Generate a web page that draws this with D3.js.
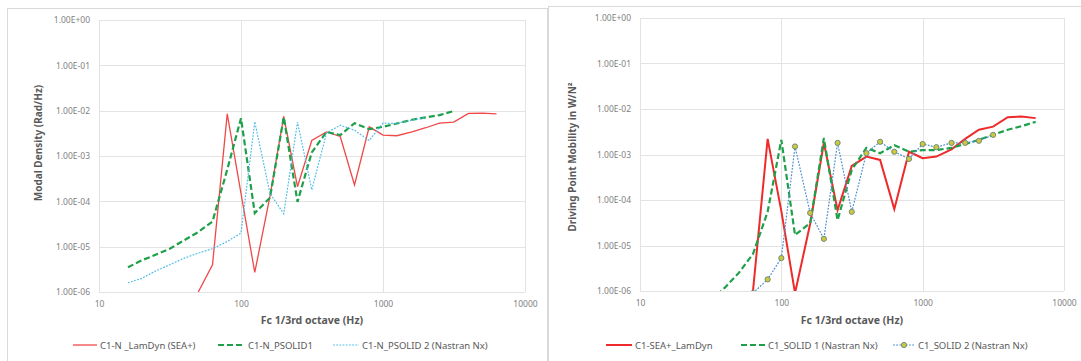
<!DOCTYPE html>
<html>
<head>
<meta charset="utf-8">
<script src="https://cdn.jsdelivr.net/npm/d3@7"></script>
<style>
  html, body { margin: 0; padding: 0; background: #ffffff; }
  svg { display: block; font-family: "Noto Sans", "Liberation Sans", sans-serif; }
</style>
</head>
<body>
<svg id="chart" width="1081" height="361"></svg>
<script>
// 1/3 octave band centre frequencies (Hz)
const bands = [16, 20, 25, 31.5, 40, 50, 63, 80, 100, 125, 160, 200, 250, 315, 400, 500,
               630, 800, 1000, 1250, 1600, 2000, 2500, 3150, 4000, 5000, 6300];

// Modal density (Rad/Hz) per band; null = no value in that band
const modalLamDyn = [null, null, null, null, null, 1.0e-6, 4.0e-6, 8.5e-3, 1.5e-4, 2.7e-6, 1.3e-4, 7.5e-3,
                     2.1e-4, 2.2e-3, 3.4e-3, 2.7e-3, 2.3e-4, 4.4e-3, 2.9e-3, 2.8e-3, 3.4e-3, 4.2e-3,
                     5.3e-3, 5.6e-3, 8.7e-3, 8.8e-3, 8.5e-3];
const modalPsolid1 = [3.5e-6, 5.0e-6, 6.6e-6, 9.0e-6, 1.4e-5, 2.1e-5, 3.6e-5, 5.0e-4, 6.8e-3, 5.5e-5, 1.2e-4, 7.2e-3,
                      9.7e-5, 1.2e-3, 3.4e-3, 2.9e-3, 5.3e-3, 3.9e-3, 4.4e-3, 5.2e-3, 6.3e-3, 7.1e-3,
                      8.0e-3, 9.8e-3, null, null, null];
const modalPsolid2 = [1.6e-6, 2.0e-6, 2.9e-6, 4.0e-6, 5.6e-6, 7.2e-6, 9.0e-6, 1.3e-5, 2.0e-5, 5.7e-3, 1.5e-4, 5.3e-5,
                      5.6e-3, 1.8e-4, 3.2e-3, 4.8e-3, 3.7e-3, 2.2e-3, 5.3e-3, 5.2e-3, 6.2e-3, 7.0e-3,
                      null, null, null, null, null];

// Driving point mobility (W/N²) per band
const mobLamDyn = [null, null, null, null, null, null, 1.0e-6, 2.2e-3, 5.7e-5, 9.0e-7, 3.0e-5, 1.8e-3,
                   6.0e-5, 5.6e-4, 9.0e-4, 7.6e-4, 6.3e-5, 1.15e-3, 8.3e-4, 9.0e-4, 1.3e-3, 2.2e-3,
                   3.5e-3, 4.1e-3, 6.6e-3, 6.8e-3, 6.3e-3];
const mobSolid1 = [null, null, null, 6.0e-7, 1.2e-6, 2.5e-6, 6.5e-6, 5.5e-5, 2.1e-3, 1.7e-5, 3.1e-5, 2.3e-3,
                   3.6e-5, 4.6e-4, 1.4e-3, 1.07e-3, 1.6e-3, 1.15e-3, 1.25e-3, 1.25e-3, 1.4e-3, 1.7e-3,
                   2.1e-3, 2.7e-3, 3.5e-3, 4.2e-3, 5.2e-3];
const mobSolid2 = [null, null, null, null, null, null, 9.0e-7, 1.8e-6, 5.3e-6, 1.5e-3, 5.2e-5, 1.4e-5,
                   1.8e-3, 5.5e-5, 1.07e-3, 1.9e-3, 1.15e-3, 8.0e-4, 1.7e-3, 1.45e-3, 1.8e-3, 1.8e-3,
                   2.0e-3, 2.7e-3, null, null, null];

// Axis ticks
const xTicks = [10, 100, 1000, 10000];
const yTicks = [1e0, 1e-1, 1e-2, 1e-3, 1e-4, 1e-5, 1e-6];

// Series names
const modalNames = ["C1-N _LamDyn (SEA+)", "C1-N_PSOLID1", "C1-N_PSOLID 2 (Nastran Nx)"];
const mobNames = ["C1-SEA+_LamDyn", "C1_SOLID 1 (Nastran Nx)", "C1_SOLID 2 (Nastran Nx)"];

const svg = d3.select("#chart");

function expLabel(v) {
  const e = Math.round(Math.log10(v));
  const sign = e < 0 ? "-" : "+";
  return "1.00E" + sign + String(Math.abs(e)).padStart(2, "0");
}

function drawPanel(cfg) {
  const g = svg.append("g");

  // panel frame
  g.append("rect")
    .attr("x", cfg.frame[0] + 0.5).attr("y", cfg.frame[1] + 0.5)
    .attr("width", cfg.frame[2]).attr("height", cfg.frame[3])
    .attr("fill", "#ffffff").attr("stroke", "#d9d9d9").attr("stroke-width", 1);

  const x = d3.scaleLog().domain([10, 10000]).range([cfg.plot.x0, cfg.plot.x1]);
  const y = d3.scaleLog().domain([1e-6, 1]).range([cfg.plot.y1, cfg.plot.y0]);

  // gridlines
  g.append("g").selectAll("line").data(yTicks).join("line")
    .attr("x1", cfg.plot.x0).attr("x2", cfg.plot.x1)
    .attr("y1", d => Math.round(y(d)) + 0.5).attr("y2", d => Math.round(y(d)) + 0.5)
    .attr("stroke", "#e3e3e3").attr("stroke-width", 1);
  g.append("g").selectAll("line").data(xTicks).join("line")
    .attr("x1", d => Math.round(x(d)) + 0.5).attr("x2", d => Math.round(x(d)) + 0.5)
    .attr("y1", cfg.plot.y0).attr("y2", cfg.plot.y1)
    .attr("stroke", "#e3e3e3").attr("stroke-width", 1);

  // axes labels via d3 axes (no domain line, no tick marks)
  const yAxis = g.append("g")
    .attr("transform", `translate(${cfg.plot.x0},0)`)
    .call(d3.axisLeft(y).tickValues(yTicks).tickFormat(expLabel).tickSize(0).tickPadding(9));
  const xAxis = g.append("g")
    .attr("transform", `translate(0,${cfg.plot.y1})`)
    .call(d3.axisBottom(x).tickValues(xTicks).tickFormat(d3.format("d")).tickSize(0).tickPadding(9));
  [yAxis, xAxis].forEach(a => {
    a.select(".domain").remove();
    a.selectAll("text").attr("fill", "#7f7f7f").style("font-size", "8.5px")
      .style("font-family", "'Noto Sans', sans-serif");
  });

  // axis titles
  g.append("text")
    .attr("transform", `translate(${cfg.yTitleX},${cfg.yTitleY}) rotate(-90)`)
    .attr("text-anchor", "middle").attr("fill", "#595959")
    .style("font-size", "10px").style("font-weight", "bold")
    .text(cfg.yTitle);
  g.append("text")
    .attr("x", (cfg.plot.x0 + cfg.plot.x1) / 2).attr("y", 324)
    .attr("text-anchor", "middle").attr("fill", "#595959")
    .style("font-size", "10.5px").style("font-weight", "bold")
    .text("Fc 1/3rd octave (Hz)");

  // clip to plot area
  const clipId = "clip-" + cfg.id;
  g.append("clipPath").attr("id", clipId).append("rect")
    .attr("x", cfg.plot.x0).attr("y", cfg.plot.y0 - 4)
    .attr("width", cfg.plot.x1 - cfg.plot.x0 + 4).attr("height", cfg.plot.y1 - cfg.plot.y0 + 4);

  const lines = g.append("g").attr("clip-path", `url(#${clipId})`);
  const lineGen = d3.line()
    .defined(d => d.v != null)
    .x(d => x(d.f)).y(d => y(d.v));

  cfg.series.forEach(s => {
    const pts = bands.map((f, i) => ({ f, v: s.values[i] }));
    lines.append("path")
      .datum(pts)
      .attr("d", lineGen)
      .attr("fill", "none")
      .attr("stroke", s.color)
      .attr("stroke-width", s.width)
      .attr("stroke-dasharray", s.dash || null)
      .attr("stroke-linejoin", "miter");
    if (s.marker) {
      lines.append("g").selectAll("circle")
        .data(pts.filter(d => d.v != null))
        .join("circle")
        .attr("cx", d => x(d.f)).attr("cy", d => y(d.v))
        .attr("r", 2.6)
        .attr("fill", "#cfc83a").attr("stroke", "#6f8c7c").attr("stroke-width", 1);
    }
  });

  // legend
  const leg = g.append("g");
  cfg.series.forEach((s, i) => {
    const L = cfg.legend[i];
    leg.append("line")
      .attr("x1", L[0]).attr("x2", L[1]).attr("y1", 345).attr("y2", 345)
      .attr("stroke", s.color).attr("stroke-width", s.width)
      .attr("stroke-dasharray", s.dash || null);
    if (s.marker) {
      leg.append("circle").attr("cx", (L[0] + L[1]) / 2).attr("cy", 345).attr("r", 2.6)
        .attr("fill", "#cfc83a").attr("stroke", "#6f8c7c").attr("stroke-width", 1);
    }
    leg.append("text")
      .attr("x", L[1] + 3).attr("y", 348.5)
      .attr("fill", "#595959").style("font-size", "9.5px")
      .text(s.name);
  });
}

drawPanel({
  id: "modal",
  frame: [7, 8, 540, 360],
  plot: { x0: 99, x1: 525, y0: 20, y1: 292 },
  yTitle: "Modal Density (Rad/Hz)",
  yTitleX: 42,
  yTitleY: 143,
  legend: [[73, 97], [218, 245], [333, 359]],
  series: [
    { name: modalNames[0], values: modalLamDyn, color: "#f04848", width: 1.3 },
    { name: modalNames[1], values: modalPsolid1, color: "#1ea04a", width: 2.2, dash: "6,3" },
    { name: modalNames[2], values: modalPsolid2, color: "#4fbde8", width: 1.2, dash: "1.8,1.4" }
  ]
});

drawPanel({
  id: "mobility",
  frame: [548, 6, 540, 360],
  plot: { x0: 640, x1: 1064, y0: 18, y1: 291 },
  yTitle: "Driving Point Mobility in W/N²",
  yTitleX: 576,
  yTitleY: 157,
  legend: [[606, 632], [741, 765], [893, 915]],
  series: [
    { name: mobNames[0], values: mobLamDyn, color: "#ee2a2a", width: 2 },
    { name: mobNames[1], values: mobSolid1, color: "#1ea04a", width: 2.2, dash: "6,3" },
    { name: mobNames[2], values: mobSolid2, color: "#4d8fd0", width: 1.2, dash: "1.8,1.4", marker: true }
  ]
});
</script>
</body>
</html>
